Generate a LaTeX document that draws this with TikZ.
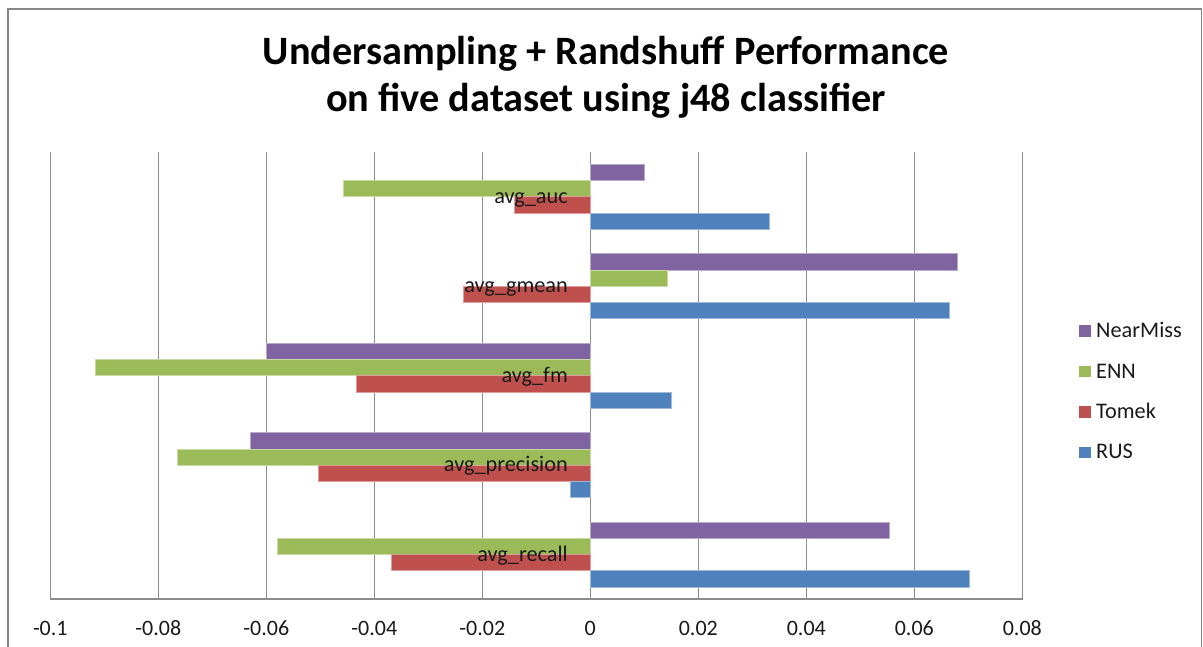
\documentclass[tikz,border=0pt]{standalone}
\usepackage{fontspec}
\setmainfont{Carlito}
\definecolor{cNM}{HTML}{8064A2}
\definecolor{cENN}{HTML}{9BBB59}
\definecolor{cTom}{HTML}{C0504D}
\definecolor{cRUS}{HTML}{4F81BD}
\definecolor{gridc}{HTML}{8C8C8C}
\definecolor{framec}{HTML}{868686}
\definecolor{txt}{HTML}{1A1A1A}
\tikzset{
  bar/.style={line width=0.6pt},
  gridline/.style={draw=gridc, line width=1.1pt},
  ticklab/.style={font=\fontsize{22}{26}\selectfont, text=txt, inner sep=0pt},
  catlab/.style={font=\fontsize{22.3}{26}\selectfont, text=txt, anchor=base east, inner sep=0pt},
  leglab/.style={font=\fontsize{22.3}{26}\selectfont, text=txt, anchor=base west, inner sep=0pt},
  titlelab/.style={font=\bfseries\fontsize{40.3}{48}\selectfont, text=black, anchor=base, inner sep=0pt}
}
\begin{document}
\begin{tikzpicture}[x=1pt,y=-1pt]
\useasboundingbox (0,0) rectangle (1203,647);
\fill[white] (0,0) rectangle (1203,647);
\clip (0,0) rectangle (1203,647);
% chart frame
\draw[draw=framec, line width=1.6pt] (8,660) -- (8,9.3) -- (1201.5,9.3) -- (1201.5,660);
% title
\node[titlelab] (title1) at (606,65) {Undersampling + Randshuff Performance};
\node[titlelab] (title2) at (606,112) {on five dataset using j48 classifier};
% grid
\foreach \i/\lab in {0/-0.1,1/-0.08,2/-0.06,3/-0.04,4/-0.02,5/0,6/0.02,7/0.04,8/0.06,9/0.08}{
  \pgfmathsetmacro{\gx}{50.3+108*\i}
  \draw[gridline] (\gx,152) -- (\gx,599);
  \node[ticklab] (tick\i) at (\gx,628) {\lab};
}
\draw[gridline] (49.8,599) -- (1022.5,599);
% bars: band index (0=top), values NearMiss, ENN, Tomek, RUS
\foreach \b/\vn/\ve/\vt/\vr in {0/0.0100/-0.0457/-0.0141/0.0331,
                                 1/0.0679/0.0143/-0.0236/0.0664,
                                 2/-0.0600/-0.0916/-0.0434/0.0150,
                                 3/-0.0630/-0.0765/-0.0504/-0.0037,
                                 4/0.0554/-0.0580/-0.0368/0.0701}{
  \pgfmathsetmacro{\ty}{152+89.4*\b+12.4}
  \foreach \k/\v/\c in {0/\vn/cNM,1/\ve/cENN,2/\vt/cTom,3/\vr/cRUS}{
    \pgfmathsetmacro{\xa}{590.3+5400*\v}
    \pgfmathsetmacro{\ya}{\ty+16.2*\k}
    \pgfmathsetmacro{\yb}{\ya+16.2}
    \filldraw[bar, fill=\c, draw=\c!55!white] (590.3,\ya) rectangle (\xa,\yb);
  }
}
% category labels
\node[catlab] (cauc) at (568,203.5) {avg\_auc};
\node[catlab] (cgm) at (568,292.9) {avg\_gmean};
\node[catlab] (cfm) at (568,382.3) {avg\_fm};
\node[catlab] (cpr) at (568,471.7) {avg\_precision};
\node[catlab] (crc) at (568,561.1) {avg\_recall};
% legend
\foreach \n/\yy/\c/\lab in {0/331/cNM/NearMiss,1/371.5/cENN/ENN,2/411.7/cTom/Tomek,3/452.3/cRUS/RUS}{
  \fill[\c] (1079,\yy-5.8) rectangle (1090.8,\yy+5.8);
  \node[leglab] (leg\n) at (1096,\yy+6.5) {\lab};
}
\end{tikzpicture}
\end{document}
